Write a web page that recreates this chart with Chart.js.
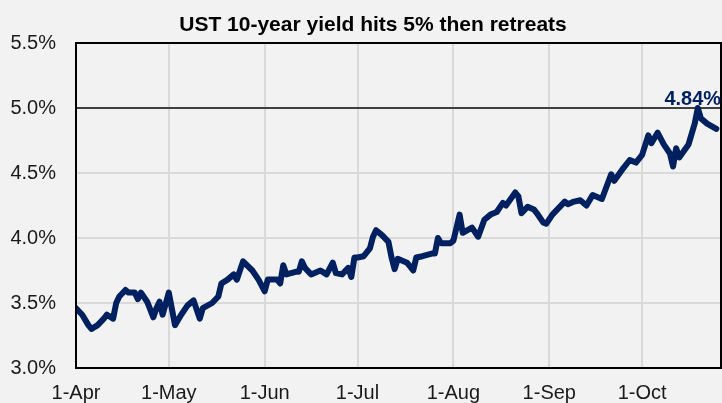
<!DOCTYPE html>
<html>
<head>
<meta charset="utf-8">
<script src="https://cdn.jsdelivr.net/npm/chart.js@4"></script>
<style>
  html, body { margin: 0; padding: 0; background: #f2f2f2; }
  canvas { display: block; }
</style>
</head>
<body>
<canvas id="chart" width="722" height="403"></canvas>
<script>
const TITLE = "UST 10-year yield hits 5% then retreats";
const LAST_LABEL = "4.84%";

// x values are days since 1 April
const monthTicks = [0, 30, 61, 91, 122, 153, 183];
const monthLabels = ["1-Apr", "1-May", "1-Jun", "1-Jul", "1-Aug", "1-Sep", "1-Oct"];
const yTicks = [3.0, 3.5, 4.0, 4.5, 5.0, 5.5];

const dayOffsets = [
  0, 2, 4, 5, 7, 9, 10, 12, 13, 14, 16, 17, 19, 20, 21, 23, 25, 26, 27, 28,
  30, 32, 34, 36, 38, 40, 41, 44, 46, 47, 49, 51, 52, 54, 57, 59,
  61, 62, 65, 66, 67, 68, 71, 72, 73, 74, 76, 79, 81, 83, 84, 86, 88, 89, 90,
  91, 93, 95, 96, 97, 99, 101, 102, 103, 104, 107, 109, 110, 112, 115, 116, 117, 118, 121,
  122, 123, 124, 125, 128, 130, 132, 134, 136, 138, 139, 142, 143, 144, 146, 148, 149, 151, 152,
  154, 156, 158, 159, 161, 163, 165, 167, 170, 173, 174, 177, 179, 181,
  183, 185, 186, 188, 190, 192, 193, 194, 195, 198, 200, 201, 202, 204, 207,
];
const yields = [
  3.46, 3.41, 3.33, 3.30, 3.33, 3.38, 3.41, 3.38, 3.50, 3.55, 3.60, 3.58, 3.58, 3.53, 3.58, 3.51, 3.39, 3.46, 3.51, 3.41,
  3.58, 3.33, 3.41, 3.48, 3.52, 3.38, 3.46, 3.50, 3.55, 3.65, 3.68, 3.72, 3.68, 3.82, 3.75, 3.68,
  3.59, 3.68, 3.68, 3.65, 3.79, 3.72, 3.74, 3.74, 3.82, 3.77, 3.72, 3.75, 3.72, 3.81, 3.73, 3.72, 3.77, 3.70, 3.85,
  3.85, 3.86, 3.92, 4.01, 4.06, 4.02, 3.97, 3.85, 3.76, 3.84, 3.81, 3.75, 3.85, 3.86, 3.88, 3.88, 4.00, 3.96, 3.96,
  3.98, 4.08, 4.18, 4.04, 4.08, 4.01, 4.14, 4.18, 4.20, 4.27, 4.25, 4.35, 4.32, 4.19, 4.24, 4.22, 4.19, 4.12, 4.11,
  4.18, 4.23, 4.28, 4.26, 4.28, 4.29, 4.25, 4.33, 4.30, 4.49, 4.44, 4.54, 4.60, 4.58,
  4.64, 4.79, 4.73, 4.81, 4.72, 4.65, 4.55, 4.69, 4.62, 4.72, 4.88, 5.00, 4.92, 4.88, 4.84,
];

const X_MAX = 208.5;
const thresholdDays = [0, X_MAX];
const thresholdLevel = [5.0, 5.0];

const FONT = '"Liberation Sans", Arial, sans-serif';

const frame = {
  id: "frame",
  beforeDraw(chart) {
    const ctx = chart.ctx;
    ctx.save();
    ctx.fillStyle = "#f2f2f2";
    ctx.fillRect(0, 0, chart.width, chart.height);
    ctx.restore();
  },
  afterDatasetsDraw(chart) {
    const { ctx, chartArea: a, scales } = chart;
    ctx.save();
    ctx.strokeStyle = "#000";
    ctx.lineWidth = 2;
    ctx.strokeRect(a.left, a.top, a.right - a.left, a.bottom - a.top);

    // label over the peak
    const peakIdx = yields.indexOf(Math.max(...yields));
    const px = scales.x.getPixelForValue(dayOffsets[peakIdx]);
    const py = scales.y.getPixelForValue(5.0);
    ctx.fillStyle = "#002060";
    ctx.font = "bold 20px " + FONT;
    ctx.textAlign = "center";
    ctx.textBaseline = "alphabetic";
    ctx.fillText(LAST_LABEL, px - 5, py - 3);

    ctx.fillStyle = "#000";
    ctx.font = "bold 21px " + FONT;
    ctx.fillText(TITLE, 373, 31);
    ctx.restore();
  },
};

new Chart(document.getElementById("chart"), {
  type: "line",
  data: {
    datasets: [
      {
        data: dayOffsets.map((d, i) => ({ x: d, y: yields[i] })),
        borderColor: "#002060",
        borderWidth: 6,
        borderJoinStyle: "round",
        borderCapStyle: "round",
        pointRadius: 0,
        tension: 0,
        order: 1,
      },
      {
        data: thresholdDays.map((d, i) => ({ x: d, y: thresholdLevel[i] })),
        borderColor: "#404040",
        borderWidth: 2,
        pointRadius: 0,
        order: 2,
      },
    ],
  },
  options: {
    responsive: false,
    animation: false,
    devicePixelRatio: 1,
    layout: { padding: { top: 43, right: 1, left: 0, bottom: 0 } },
    plugins: { legend: { display: false }, tooltip: { enabled: false }, title: { display: false } },
    scales: {
      x: {
        type: "linear",
        min: 0,
        max: X_MAX,
        afterBuildTicks: (scale) => { scale.ticks = monthTicks.map((v) => ({ value: v })); },
        afterFit: (scale) => { scale.height = 35; },
        ticks: {
          autoSkip: false,
          maxRotation: 0,
          padding: 13,
          color: "#1a1a1a",
          font: { family: FONT, size: 20 },
          callback: (v) => monthLabels[monthTicks.indexOf(v)],
        },
        grid: { color: "#d9d9d9", lineWidth: 2, drawTicks: false },
        border: { display: true, color: "#000", width: 2 },
      },
      y: {
        min: 3.0,
        max: 5.5,
        afterBuildTicks: (scale) => { scale.ticks = yTicks.map((v) => ({ value: v })); },
        afterFit: (scale) => { scale.width = 76; },
        ticks: {
          padding: 20,
          color: "#1a1a1a",
          font: { family: FONT, size: 20 },
          callback: (v) => v.toFixed(1) + "%",
        },
        grid: { color: "#d9d9d9", lineWidth: 2, drawTicks: false },
        border: { display: true, color: "#000", width: 2 },
      },
    },
  },
  plugins: [frame],
});
</script>
</body>
</html>
